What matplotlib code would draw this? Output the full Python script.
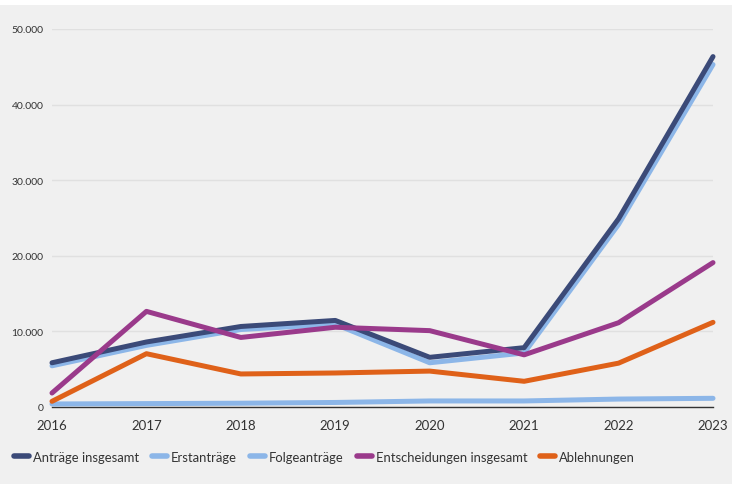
import numpy as np
from matplotlib import pyplot as plt
from matplotlib.ticker import FuncFormatter

years = [2016, 2017, 2018, 2019, 2020, 2021, 2022, 2023]

antraege = [5850, 8600, 10650, 11450, 6570, 7850, 24900, 46350]
erstantraege = [5450, 8150, 10250, 10950, 5850, 7150, 24150, 45300]
folgeantraege = [400, 450, 500, 600, 800, 800, 1050, 1150]
entscheidungen = [1850, 12650, 9200, 10550, 10100, 6900, 11150, 19100]
ablehnungen = [750, 7050, 4370, 4500, 4750, 3400, 5800, 11200]

series = [
    ('Anträge insgesamt', antraege, '#3b4a78'),
    ('Erstanträge', erstantraege, '#8cb6e8'),
    ('Folgeanträge', folgeantraege, '#8cb6e8'),
    ('Entscheidungen insgesamt', entscheidungen, '#9a3a8b'),
    ('Ablehnungen', ablehnungen, '#df6119'),
]
zorders = [5, 4, 3, 6, 3]

plt.rcParams['font.family'] = ['Lato', 'DejaVu Sans']

fig = plt.figure(figsize=(7.32, 4.85), dpi=100, facecolor='#f0f0f0')
# white strip at top
fig.patches.append(plt.Rectangle((0, 1 - 6/485), 1, 6/485, transform=fig.transFigure,
                                 facecolor='white', edgecolor='none'))
ax = fig.add_axes([52/732, 1 - 408/485, (713-52)/732, (408-30)/485])
ax.set_facecolor('#f0f0f0')

lines = []
for (name, vals, col), z in zip(series, zorders):
    l, = ax.plot(years, vals, color=col, lw=3.6, label=name, zorder=z,
                 solid_capstyle='round', solid_joinstyle='round', clip_on=False)
    lines.append(l)

ax.set_xlim(2016, 2023)
ax.set_ylim(0, 50000)
ax.set_yticks([0, 10000, 20000, 30000, 40000, 50000])
ax.yaxis.set_major_formatter(FuncFormatter(lambda v, p: f'{int(v):,}'.replace(',', '.')))
ax.set_xticks(years)
ax.grid(axis='y', color='#e0e0e0', lw=1)
ax.set_axisbelow(True)
for s in ['top', 'right', 'left']:
    ax.spines[s].set_visible(False)
ax.spines['bottom'].set_color('#333333')
ax.spines['bottom'].set_linewidth(1)
ax.spines['bottom'].set_zorder(2)
ax.tick_params(axis='y', length=0, labelsize=7.5, labelcolor='#333333', pad=6)
ax.tick_params(axis='x', length=0, labelsize=9.5, labelcolor='#333333', pad=9)

leg = fig.legend(handles=lines, loc='center left', bbox_to_anchor=(14/732, 1 - 458/485),
                 ncol=5, frameon=False, fontsize=9.4, handlelength=1.15, handletextpad=0.3,
                 columnspacing=1.0, borderaxespad=0, borderpad=0)
for h in leg.legend_handles:
    h.set_linewidth(4)
for t in leg.get_texts():
    t.set_color('#333333')

fig.savefig('out.png', dpi=100, facecolor=fig.get_facecolor())
